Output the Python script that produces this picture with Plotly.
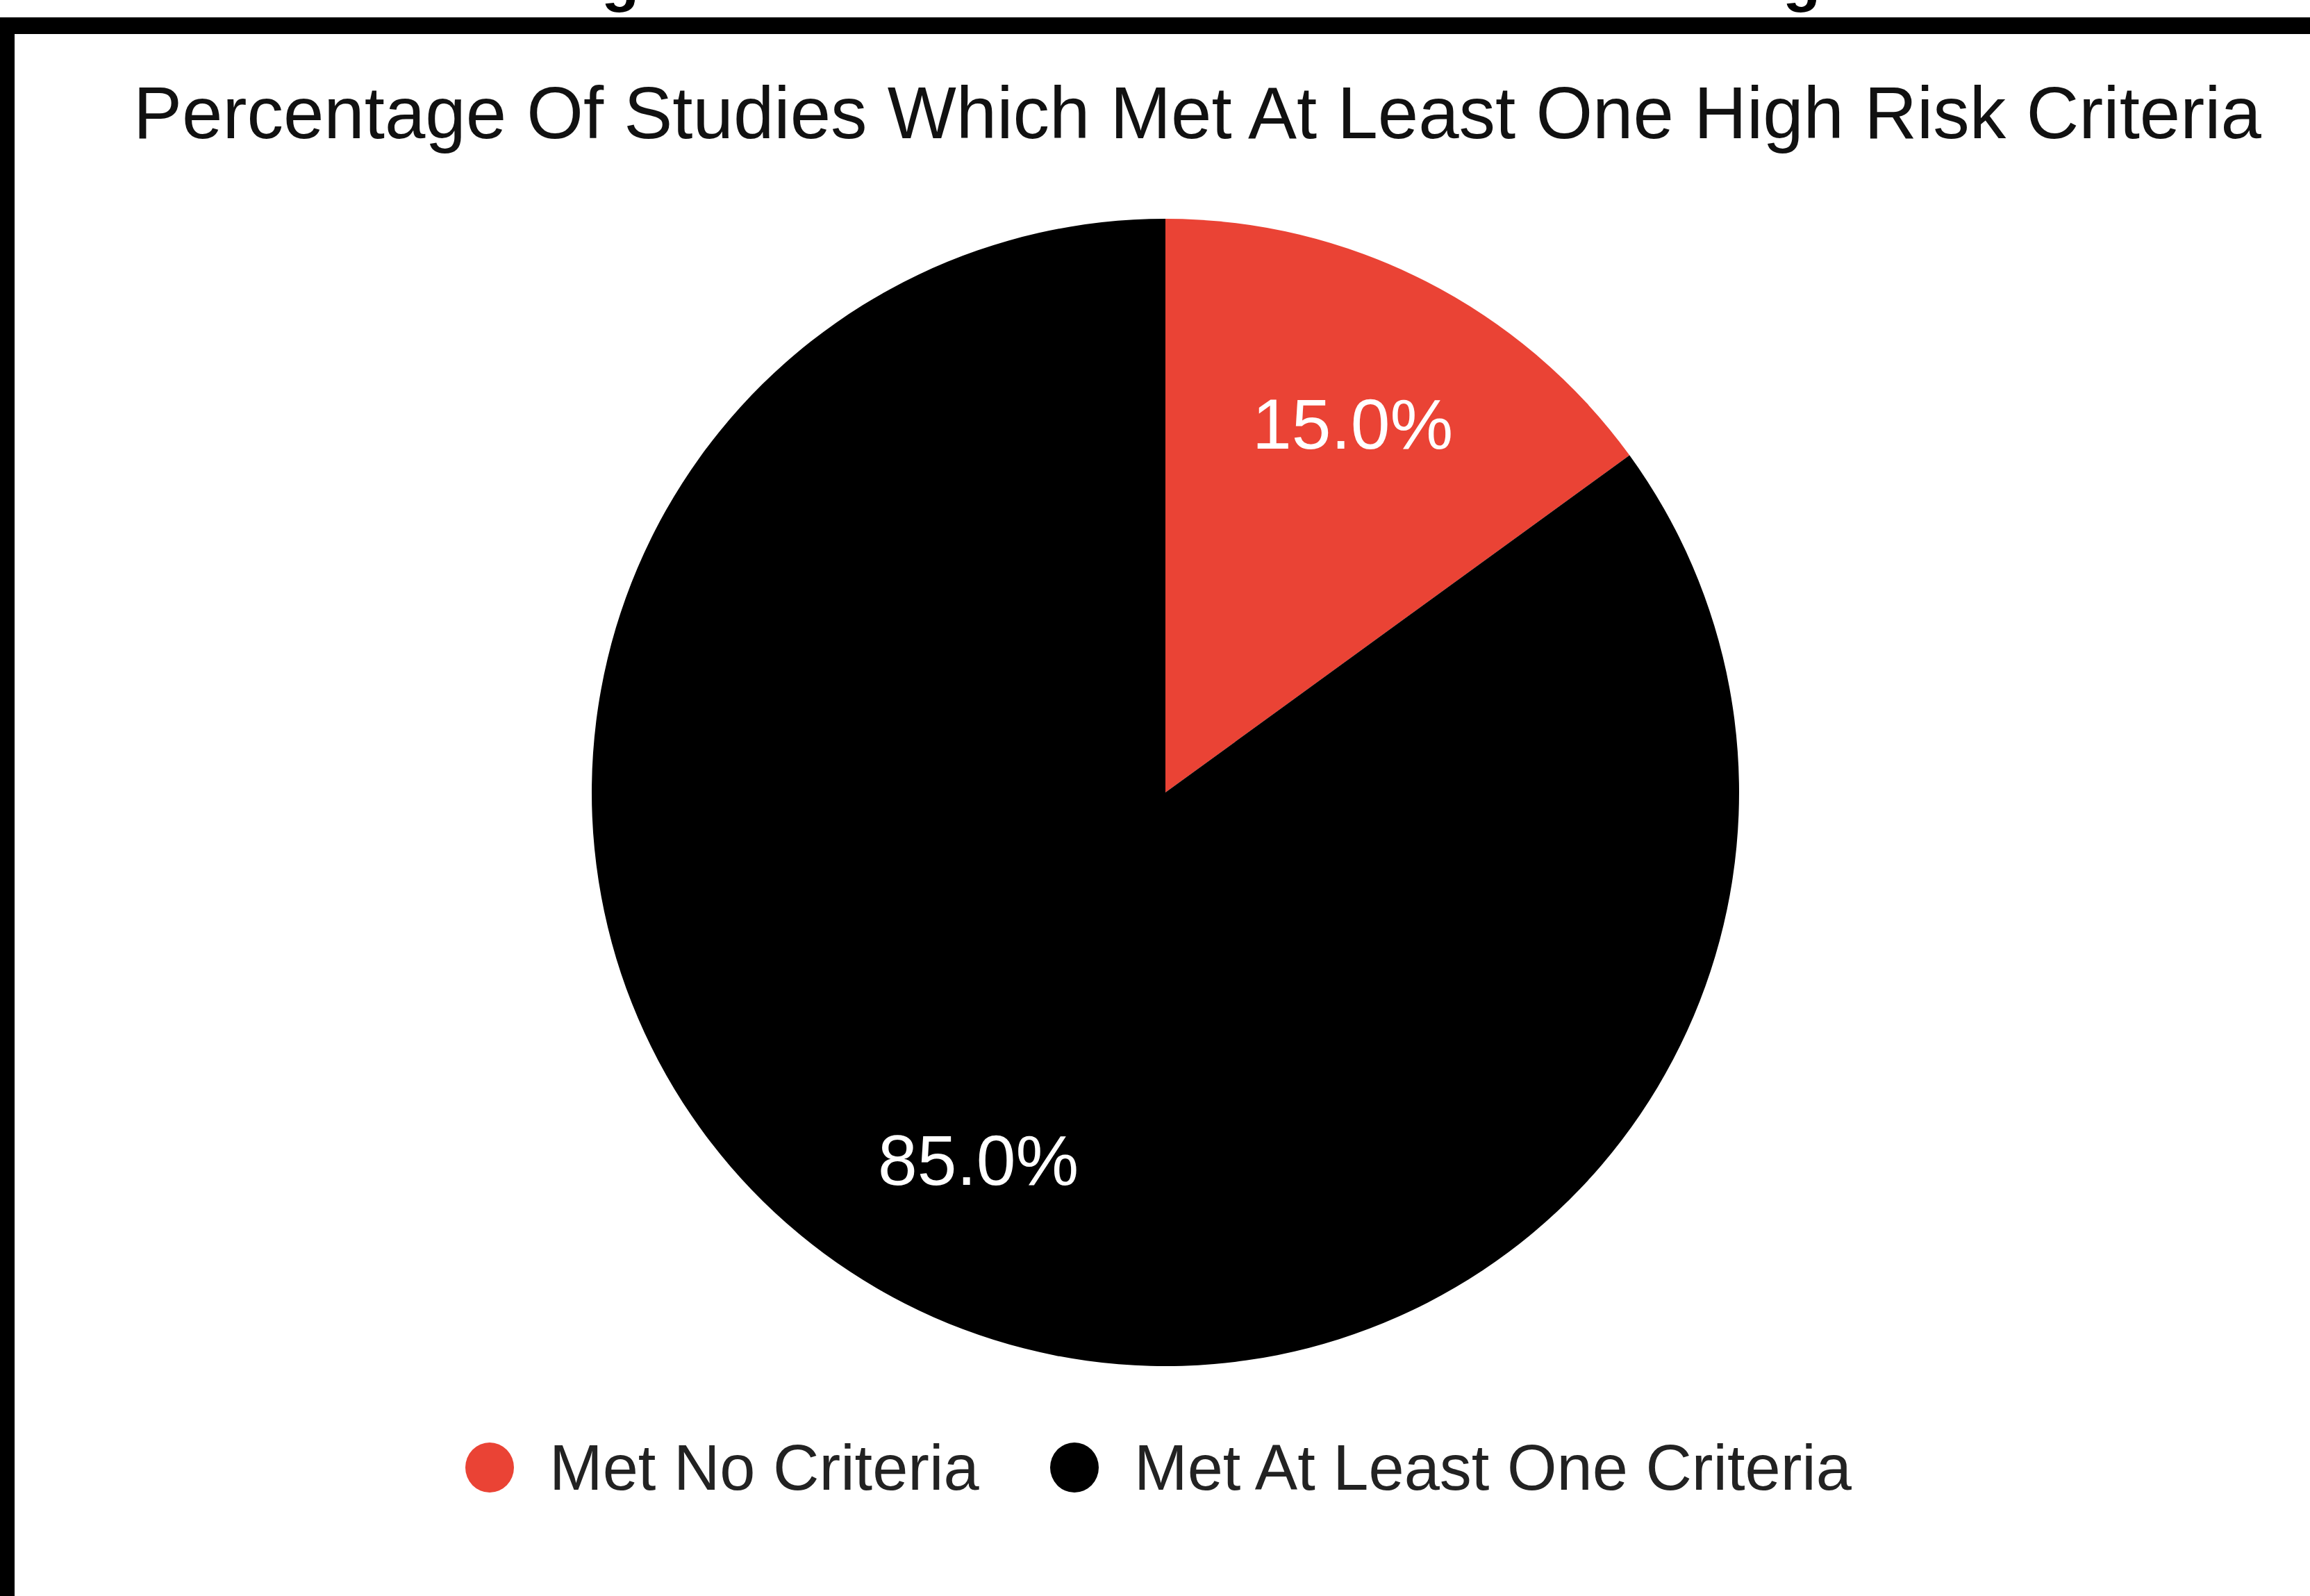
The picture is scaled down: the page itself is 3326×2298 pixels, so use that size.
import math
import plotly.graph_objects as go

# ---- data ----
categories = ["Met No Criteria", "Met At Least One Criteria"]
values = [15.0, 85.0]
colors = ["#EA4335", "#000000"]
title_text = "Percentage Of Studies Which Met At Least One High Risk Criteria"
caption_text = "Chart 1: Percentage of Studies Which Met at Least One High Risk Criteria"

W, H = 3326, 2298
FONT = "Liberation Sans, Arial, sans-serif"
CX, CY, R = 1678, 1141, 826      # pie centre / radius in pixels
LABEL_R = 0.72                   # label radius as a fraction of the pie radius


def px_x(x):
    return x / W


def px_y(y):
    return 1 - y / H


fig = go.Figure()
fig.add_trace(go.Pie(
    labels=categories,
    values=values,
    sort=False,
    direction="clockwise",
    rotation=0,
    marker=dict(colors=colors, line=dict(width=0)),
    textinfo="none",
    domain=dict(x=[px_x(CX - R), px_x(CX + R)],
                y=[px_y(CY + R), px_y(CY - R)]),
    hoverinfo="label+percent",
    showlegend=False,
))

shapes = [
    # frame: top bar and left bar
    dict(type="rect", xref="paper", yref="paper", x0=0, x1=1,
         y0=px_y(49), y1=px_y(25), fillcolor="black", line=dict(width=0), layer="above"),
    dict(type="rect", xref="paper", yref="paper", x0=0, x1=px_x(21),
         y0=0, y1=px_y(25), fillcolor="black", line=dict(width=0), layer="above"),
]

annotations = [
    dict(text="<b>" + caption_text + "</b>", xref="paper", yref="paper",
         x=px_x(127), y=px_y(20), xanchor="left", yanchor="bottom",
         showarrow=False, font=dict(family=FONT, size=89, color="black")),
]

# slice percentage labels, placed at the middle angle of each slice
total = sum(values)
cum = 0.0
for v in values:
    mid = (cum + v / 2) / total * 2 * math.pi   # clockwise from 12 o'clock
    cum += v
    lx = CX + LABEL_R * R * math.sin(mid)
    ly = CY - LABEL_R * R * math.cos(mid)
    annotations.append(dict(text=f"{v / total * 100:.1f}%", xref="paper", yref="paper",
                            x=px_x(lx), y=px_y(ly), xanchor="center", yanchor="middle",
                            showarrow=False,
                            font=dict(family=FONT, size=102, color="white")))

# manual legend with round markers
legend_x = [705, 1547]
legend_text_x = [789, 1631]
legend_y = 2113
for cat, col, mx, tx in zip(categories, colors, legend_x, legend_text_x):
    shapes.append(dict(type="circle", xref="paper", yref="paper",
                       xsizemode="pixel", ysizemode="pixel",
                       xanchor=px_x(mx), yanchor=px_y(legend_y),
                       x0=-35, x1=35, y0=-36, y1=36,
                       fillcolor=col, line=dict(width=0)))
    annotations.append(dict(text=cat, xref="paper", yref="paper",
                            x=px_x(tx), y=px_y(legend_y), xanchor="left", yanchor="middle",
                            showarrow=False, font=dict(family=FONT, size=92, color="#222222")))

fig.update_layout(
    width=W, height=H,
    margin=dict(l=0, r=0, t=0, b=0),
    paper_bgcolor="white",
    plot_bgcolor="white",
    showlegend=False,
    title=dict(text=title_text, x=px_x(1724), xref="paper", xanchor="center",
               y=px_y(162), yref="paper", yanchor="middle",
               font=dict(family=FONT, size=105, color="#111111")),
    shapes=shapes,
    annotations=annotations,
)

fig.write_html("out.html", config={"displayModeBar": False},
               post_script="document.body.style.margin='0';document.body.style.overflow='hidden';")
